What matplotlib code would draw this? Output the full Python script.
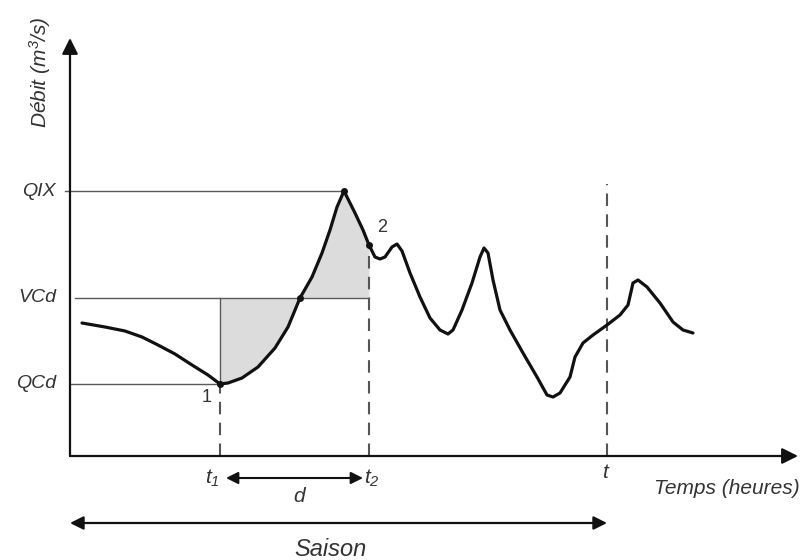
import numpy as np
import matplotlib.pyplot as plt

plt.rcParams['font.family'] = ['Liberation Sans', 'DejaVu Sans']
# all math text in this figure is italic (t1, t2, m3)
plt.rcParams['mathtext.fontset'] = 'custom'
plt.rcParams['mathtext.rm'] = 'Liberation Sans:italic'
plt.rcParams['mathtext.it'] = 'Liberation Sans:italic'

# hydrograph (time, discharge) in arbitrary units
time = [12, 35, 55, 72, 88, 105, 122, 138, 150, 158, 172, 188, 205, 218, 230,
        242, 252, 260, 267, 274, 285, 293, 299, 305, 310, 315, 322, 327, 332,
        340, 350, 360, 370, 378, 383, 392, 402, 410, 414, 418, 423, 430, 440,
        453, 467, 477, 483, 490, 500, 505, 513, 523, 537, 550, 558, 563, 568,
        577, 590, 603, 613, 623]
flow = [133, 129, 125, 119, 111, 102, 91, 81, 72, 73, 78, 89, 108, 129, 158,
        179, 203, 226, 249, 265, 243, 226, 211, 199, 197, 199, 209, 212, 205,
        183, 159, 138, 126, 122, 126, 146, 173, 199, 208, 203, 176, 146, 126,
        103, 79, 61, 59, 63, 79, 99, 113, 121, 131, 141, 151, 173, 176,
        169, 153, 134, 126, 123]

QIX, VCd, QCd = 265, 158, 72
t1, t2, t_end = 150, 299, 537
t_peak, t_cross = 274, 230

fig = plt.figure(figsize=(8.01, 5.6), dpi=100)
ax = fig.add_axes([0, 0, 1, 1])
ax.set_xlim(-70, 731)
ax.set_ylim(-104, 456)
ax.axis('off')

txt = '#333333'
ref = '#5a5a5a'

# axes with arrowheads
ax.annotate('', xy=(0, 418), xytext=(0, 0),
            arrowprops=dict(arrowstyle='-|>', mutation_scale=24, lw=1.6,
                            color='#111111', shrinkA=0, shrinkB=0))
ax.annotate('', xy=(728, 0), xytext=(0, 0),
            arrowprops=dict(arrowstyle='-|>', mutation_scale=24, lw=1.6,
                            color='#111111', shrinkA=0, shrinkB=0))

# reference levels
ax.plot([-5, t_peak], [QIX, QIX], color=ref, lw=1)
ax.plot([5, t2], [VCd, VCd], color=ref, lw=1)
ax.plot([0, t1], [QCd, QCd], color=ref, lw=1)
ax.plot([t1, t1], [QCd, VCd], color=ref, lw=1)

# shaded volume between curve and VCd over [t1, t2]
xs = np.linspace(t1, t2, 300)
ys = np.interp(xs, time, flow)
ax.fill_between(xs, ys, VCd, color='#dcdcdc', lw=0)

q2 = np.interp(t2, time, flow)

# dashed time markers
dash = dict(color='#555555', lw=1.5, linestyle=(0, (6, 4)))
ax.plot([t1, t1], [0, QCd], **dash)
ax.plot([t2, t2], [0, q2], **dash)
ax.plot([t_end, t_end], [0, 272], **dash)

# hydrograph
ax.plot(time, flow, color='#111111', lw=2.3, solid_joinstyle='round',
        solid_capstyle='round')
ax.plot([t1, t_cross, t_peak, t2], [QCd, VCd, QIX, q2],
        'o', color='#111111', ms=4)

# labels
ax.text(-14, QIX, 'QIX', ha='right', va='center', style='italic', fontsize=14, color=txt)
ax.text(-14, VCd, 'VCd', ha='right', va='center', style='italic', fontsize=14, color=txt)
ax.text(-14, QCd, 'QCd', ha='right', va='center', style='italic', fontsize=14, color=txt)
ax.text(137, 58, '1', ha='center', va='center', fontsize=13, color=txt)
ax.text(312, 228, '2', ha='center', va='center', fontsize=13, color=txt)
ax.text(-30, 384, r'Débit (m$^3$/s)', rotation=90, ha='center', va='center',
        style='italic', fontsize=15, color=txt)
ax.text(730, -32, 'Temps (heures)', ha='right', va='center', style='italic',
        fontsize=15, color=txt)

ax.text(t1 - 8, -22, r'$t_1$', ha='center', va='center', fontsize=15, color=txt)
ax.text(t2 + 3, -22, r'$t_2$', ha='center', va='center', fontsize=15, color=txt)
ax.text(t_end - 1, -16, r'$t$', ha='center', va='center', fontsize=15, color=txt)

ax.annotate('', xy=(t1 + 6, -22), xytext=(t2 - 6, -22),
            arrowprops=dict(arrowstyle='<|-|>', mutation_scale=18, lw=1.5,
                            color='#111111', shrinkA=0, shrinkB=0))
ax.text((t1 + t2) / 2 + 5, -40, 'd', ha='center', va='center', style='italic',
        fontsize=15, color=txt)

ax.annotate('', xy=(0, -67), xytext=(t_end, -67),
            arrowprops=dict(arrowstyle='<|-|>', mutation_scale=20, lw=1.6,
                            color='#111111', shrinkA=0, shrinkB=0))
ax.text(260, -93, 'Saison', ha='center', va='center', style='italic',
        fontsize=17, color=txt)

fig.savefig('out.png', dpi=100)
